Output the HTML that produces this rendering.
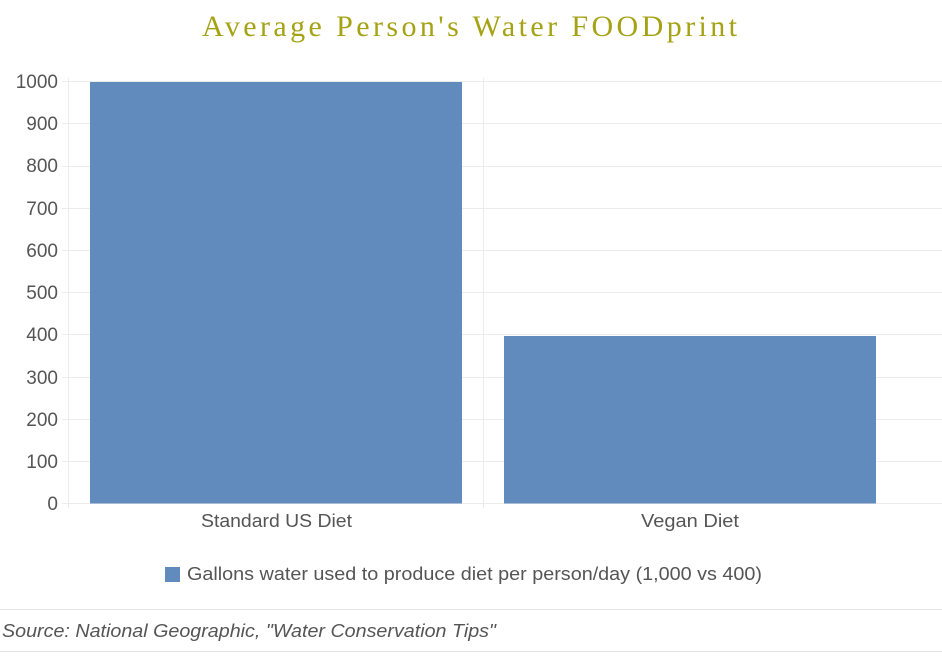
<!DOCTYPE html>
<html><head><style>
body{margin:0;background:#fff;width:942px;height:656px;overflow:hidden;position:relative;font-family:"Liberation Sans",sans-serif;}
</style></head><body>
<svg width="942" height="656" style="position:absolute;left:0;top:0">
<text x="202" y="36" textLength="535" lengthAdjust="spacing" font-family="Liberation Serif,serif" font-size="30" fill="#a5a214">Average Person's Water FOODprint</text>
<g stroke="#ececec" stroke-width="1">
<line x1="62" x2="942" y1="81.5" y2="81.5"/>
<line x1="62" x2="942" y1="123.5" y2="123.5"/>
<line x1="62" x2="942" y1="166.5" y2="166.5"/>
<line x1="62" x2="942" y1="208.5" y2="208.5"/>
<line x1="62" x2="942" y1="250.5" y2="250.5"/>
<line x1="62" x2="942" y1="292.5" y2="292.5"/>
<line x1="62" x2="942" y1="334.5" y2="334.5"/>
<line x1="62" x2="942" y1="377.5" y2="377.5"/>
<line x1="62" x2="942" y1="419.5" y2="419.5"/>
<line x1="62" x2="942" y1="461.5" y2="461.5"/>
<line x1="62" x2="942" y1="503.5" y2="503.5"/>
<line x1="68.5" x2="68.5" y1="78" y2="508"/>
<line x1="483.5" x2="483.5" y1="78" y2="508"/>
</g>
<rect x="90" y="82" width="372" height="421.5" fill="#628bbd"/>
<rect x="504" y="336" width="372" height="167.5" fill="#628bbd"/>
<g font-size="19" fill="#555" text-anchor="end">
<text x="58" y="88">1000</text><text x="58" y="130">900</text><text x="58" y="172">800</text>
<text x="58" y="215">700</text><text x="58" y="257">600</text><text x="58" y="299">500</text>
<text x="58" y="341">400</text><text x="58" y="384">300</text><text x="58" y="426">200</text>
<text x="58" y="468">100</text><text x="58" y="510">0</text>
</g>
<g font-size="18" fill="#555">
<text x="201" y="527" textLength="151" lengthAdjust="spacingAndGlyphs">Standard US Diet</text>
<text x="641" y="527" textLength="98" lengthAdjust="spacingAndGlyphs">Vegan Diet</text>
</g>
<rect x="165" y="567" width="15" height="15" fill="#628bbd"/>
<text x="187" y="580" font-size="18" fill="#555" textLength="575" lengthAdjust="spacingAndGlyphs">Gallons water used to produce diet per person/day (1,000 vs 400)</text>
<line x1="0" x2="942" y1="609.5" y2="609.5" stroke="#e3e3e3"/>
<line x1="0" x2="942" y1="651.5" y2="651.5" stroke="#e3e3e3"/>
<text x="2" y="637" font-size="18" font-style="italic" fill="#555" textLength="494" lengthAdjust="spacingAndGlyphs">Source: National Geographic, "Water Conservation Tips"</text>
</svg>
</body></html>
